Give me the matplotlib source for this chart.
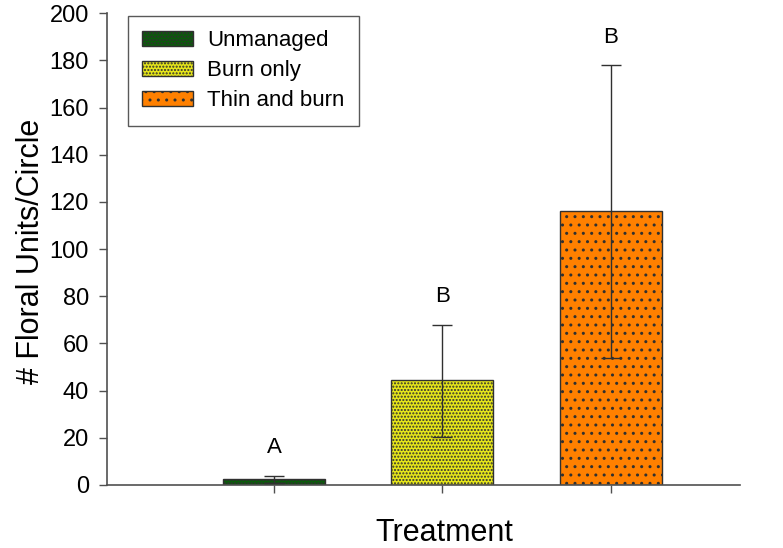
import numpy as np
import matplotlib.pyplot as plt

plt.rcParams['font.family'] = ['Liberation Sans', 'DejaVu Sans']
plt.rcParams['hatch.linewidth'] = 1.0

treatments = ['Unmanaged', 'Burn only', 'Thin and burn']
means = [2.5, 44.5, 116.0]
err_low = [1.5, 24.0, 62.0]
err_high = [1.5, 23.5, 62.0]
letters = ['A', 'B', 'B']
colors = ['#0b5a0b', '#e6e619', '#ff8000']
hatches = ['.....', '.....', '..']

fig = plt.figure(figsize=(7.83, 5.48), dpi=100)
ax = fig.add_axes([0.1367, 0.115, 0.808, 0.861])

x = np.arange(1, len(treatments) + 1)
for xi, m, c, h, lab in zip(x, means, colors, hatches, treatments):
    ax.bar(xi, m, width=0.605, color=c, edgecolor='#303030', linewidth=1.0,
           hatch=h, label=lab, zorder=2)
ax.errorbar(x, means, yerr=[err_low, err_high], fmt='none', ecolor='#303030',
            elinewidth=1.0, capsize=7, capthick=1.0, zorder=3)
for xi, m, e, t in zip(x, means, err_high, letters):
    ax.annotate(t, (xi, m + e), xytext=(0, 20), textcoords='offset points',
                ha='center', va='center', fontsize=16)

ax.set_xlim(0.009, 3.766)
ax.set_ylim(0, 200)
ax.set_yticks(np.arange(0, 201, 20))
ax.set_xticks(x)
ax.set_xticklabels([])
ax.tick_params(axis='both', direction='out', length=6, width=1.0,
               color='#505050', labelsize=17)
ax.tick_params(axis='y', pad=7)
for s in ['top', 'right']:
    ax.spines[s].set_visible(False)
for s in ['left', 'bottom']:
    ax.spines[s].set_color('#505050')
    ax.spines[s].set_linewidth(1.2)

fig.text(444 / 783, 1 - 541 / 548, 'Treatment', fontsize=22,
         ha='center', va='baseline')
fig.text(31 / 783, 1 - 251 / 548, '# Floral Units/Circle', fontsize=22,
         ha='center', va='center', rotation=90)

leg = ax.legend(loc='upper left', bbox_to_anchor=(0.033, 0.994), fontsize=16,
                frameon=True, fancybox=False, edgecolor='#303030',
                handlelength=2.3, handleheight=0.65, borderpad=0.65,
                labelspacing=0.4, handletextpad=0.6, borderaxespad=0)
leg.get_frame().set_linewidth(1.0)

fig.savefig('out.png', dpi=100)
